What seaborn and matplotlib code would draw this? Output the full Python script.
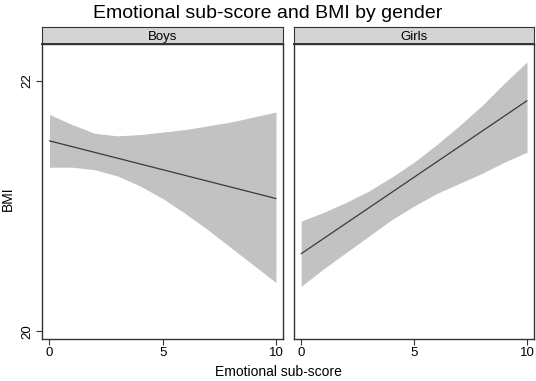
import pandas as pd
import seaborn as sns
import matplotlib.pyplot as plt

score = [0, 1, 2, 3, 4, 5, 6, 7, 8, 9, 10]
fit_x = [0, 10]

boys_fit = [21.52, 21.06]
boys_lo = [21.31, 21.31, 21.29, 21.24, 21.16, 21.06, 20.94, 20.81, 20.67, 20.53, 20.39]
boys_hi = [21.73, 21.65, 21.58, 21.56, 21.57, 21.59, 21.61, 21.64, 21.67, 21.71, 21.75]

girls_fit = [20.62, 21.84]
girls_lo = [20.36, 20.50, 20.63, 20.76, 20.89, 21.00, 21.10, 21.18, 21.26, 21.35, 21.43]
girls_hi = [20.88, 20.95, 21.03, 21.12, 21.23, 21.35, 21.49, 21.64, 21.80, 21.98, 22.15]

panels = ["Boys", "Girls"]

bands = pd.concat([
    pd.DataFrame({"gender": "Boys", "score": score, "lo": boys_lo, "hi": boys_hi}),
    pd.DataFrame({"gender": "Girls", "score": score, "lo": girls_lo, "hi": girls_hi}),
])
fits = pd.concat([
    pd.DataFrame({"gender": "Boys", "score": fit_x, "fit": boys_fit}),
    pd.DataFrame({"gender": "Girls", "score": fit_x, "fit": girls_fit}),
])

sns.set_theme(style="white")
plt.rcParams["font.family"] = ["Liberation Sans", "DejaVu Sans"]
plt.rcParams["text.color"] = "black"
edge = "#333333"

fig = plt.figure(figsize=(5.36, 3.81), dpi=100)
lefts = [42 / 536, 293.7 / 536]
widths = [241 / 536, 240.3 / 536]
bottom, height = 1 - 339 / 381, (339 - 44.3) / 381
strip_h = 17 / 381

for i, name in enumerate(panels):
    ax = fig.add_axes([lefts[i], bottom, widths[i], height])
    b = bands[bands["gender"] == name]
    ax.fill_between(b["score"], b["lo"], b["hi"], color="#c2c2c2", lw=0)
    sns.lineplot(data=fits[fits["gender"] == name], x="score", y="fit",
                 color="#3a3a3a", lw=0.9, ax=ax)
    ax.set_xlim(-0.33, 10.31)
    ax.set_ylim(19.94, 22.29)
    ax.set_xticks([0, 5, 10])
    ax.set_yticks([20, 22])
    ax.set_xlabel("")
    ax.set_ylabel("")
    ax.tick_params(axis="both", which="both", direction="out", length=4, width=0.8,
                   color=edge, labelcolor="black", labelsize=9.5, pad=2,
                   bottom=True, left=(i == 0))
    if i == 0:
        ax.set_yticklabels(["20", "22"], rotation=90, va="center")
    else:
        ax.set_yticklabels([])
    for s in ax.spines.values():
        s.set_color(edge)
        s.set_linewidth(1.0)

    strip = fig.add_axes([lefts[i], bottom + height, widths[i], strip_h])
    strip.set_facecolor("#d4d4d4")
    strip.set_xticks([])
    strip.set_yticks([])
    for s in strip.spines.values():
        s.set_color(edge)
        s.set_linewidth(0.8)
    strip.spines["bottom"].set_linewidth(1.4)
    strip.text(0.5, 0.45, name, ha="center", va="center", fontsize=9.5,
               color="black", transform=strip.transAxes)

fig.text(0.5, 1 - 13 / 381, "Emotional sub-score and BMI by gender", ha="center",
         va="center", fontsize=14, color="black")
fig.text(278 / 536, 1 - 372 / 381, "Emotional sub-score", ha="center", va="center",
         fontsize=10, color="black")
fig.text(8 / 536, 1 - 199 / 381, "BMI", ha="center", va="center", rotation=90,
         fontsize=10, color="black")

fig.savefig("out.png", dpi=100)
